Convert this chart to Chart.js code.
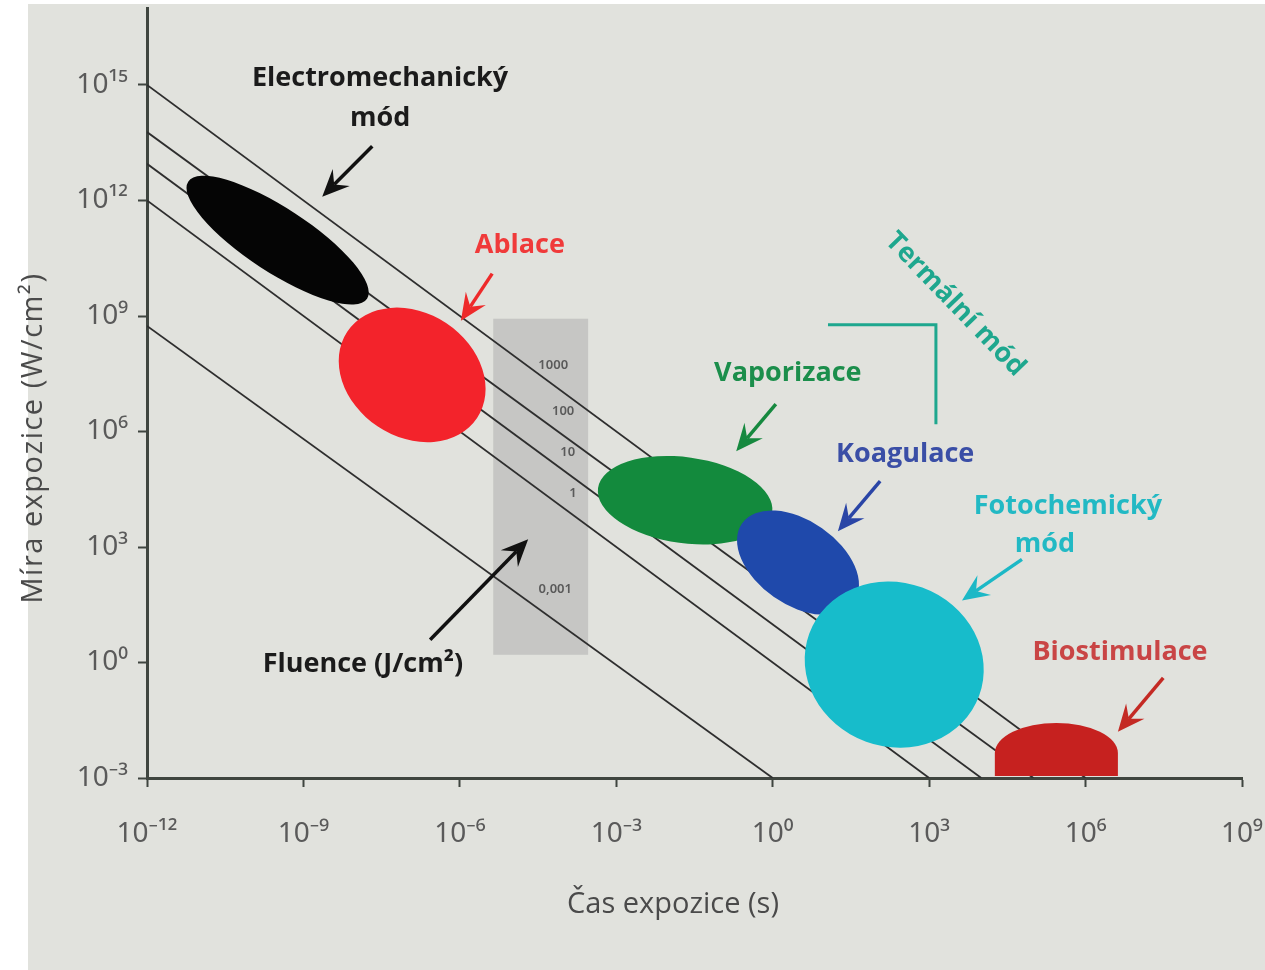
<!DOCTYPE html>
<html>
<head>
<meta charset="utf-8">
<script src="https://cdn.jsdelivr.net/npm/chart.js@4.4.1/dist/chart.umd.min.js"></script>
<style>
  html, body { margin: 0; padding: 0; background: #fff; }
  #wrap { width: 1265px; height: 970px; }
</style>
</head>
<body>
<div id="wrap"><canvas id="chart" width="1265" height="970"></canvas></div>
<script>
// --- axis ticks ---
const xTickExps = [-12, -9, -6, -3, 0, 3, 6, 9];
const xTickLabels = ['10⁻¹²', '10⁻⁹', '10⁻⁶', '10⁻³', '10⁰', '10³', '10⁶', '10⁹'];
const yTickExps = [-3, 0, 3, 6, 9, 12, 15];
const yTickLabels = ['10⁻³', '10⁰', '10³', '10⁶', '10⁹', '10¹²', '10¹⁵'];

// --- fluence lines (J/cm²): intensity at t = 1e-12 s, time at I = 1e-3 W/cm² ---
const fluenceLabels = ['1000', '100', '10', '1', '0,001'];
const fluenceStartI = [1e15, 6e13, 9e12, 1e12, 5.5e8];
const fluenceEndT = [1e6, 1e5, 1e4, 1e3, 1];
const fluenceLabelPos = [[-4.21, 7.73], [-4.02, 6.53], [-3.93, 5.46], [-3.83, 4.40], [-4.17, 1.90]];

// --- interaction modes, major axis ends as [log10 t, log10 I] ---
const modeNames = ['Electromechanický mód', 'Ablace', 'Vaporizace', 'Koagulace', 'Fotochemický mód'];
const modeStart = [[-11.21, 12.49], [-8.16, 8.59], [-3.35, 4.53], [-0.59, 3.61], [0.70, 0.75]];
const modeEnd = [[-7.78, 9.45], [-5.67, 6.35], [-0.01, 3.90], [1.56, 1.58], [3.96, -0.86]];

// biostimulation region: log10 t range, log10 I of shoulder and top
const bioT = [4.26, 6.62];
const bioShoulderI = -2.35;
const bioTopI = -1.57;

// gray fluence box: log10 t range and log10 I range
const boxT = [-5.36, -3.54];
const boxI = [0.20, 8.93];

// --- annotation texts and arrows, positions as [log10 t, log10 I] ---
const labelTexts = ['Electromechanický', 'mód', 'Ablace', 'Vaporizace', 'Koagulace', 'Fotochemický', 'mód', 'Biostimulace', 'Fluence (J/cm²)'];
const labelPos = [[-7.53, 15.18], [-7.53, 14.14], [-4.85, 10.83], [0.29, 7.52], [2.54, 5.41], [5.66, 4.06], [5.22, 3.07], [6.66, 0.255], [-7.86, -0.06]];
const arrowFrom = [[-7.68, 13.41], [-5.38, 10.10], [0.06, 6.71], [2.06, 4.71], [4.78, 2.68], [7.49, -0.40], [-6.57, 0.59]];
const arrowTo = [[-8.64, 12.10], [-5.98, 8.875], [-0.70, 5.49], [1.25, 3.41], [3.63, 1.61], [6.62, -1.80], [-4.69, 3.20]];
const thermalText = 'Termální mód';
const thermalPos = [3.50, 9.30];
const bracketPts = [[1.06, 8.77], [3.13, 8.77], [3.13, 6.19]];
const xTitle = 'Čas expozice (s)';
const yTitle = 'Míra expozice (W/cm²)';

// --- styles ---
const modeColors = ['#050505', '#f3232b', '#138a3d', '#1f49ab', '#17bccb'];
const modeMinor = [32, 62, 43, 42, 82];
const bioColor = '#c6211f';
const labelColors = ['#1b1b1b', '#1b1b1b', '#f03a3a', '#1b8e4b', '#3a4ea6', '#22b9c4', '#22b9c4', '#c94545', '#1b1b1b'];
const arrowColors = ['#111', '#ee2a2a', '#16893f', '#2a45a6', '#1cb8c6', '#c42a24', '#111'];
const thermalColor = '#1ea78e';

const datasets = fluenceLabels.map((lab, i) => ({
  label: lab + ' J/cm²',
  data: [{ x: 1e-12, y: fluenceStartI[i] }, { x: fluenceEndT[i], y: 1e-3 }],
  showLine: true,
  borderColor: '#2e2e2e',
  borderWidth: 1.8,
  pointRadius: 0,
  fill: false
}));

function drawArrow(ctx, x1, y1, x2, y2, color) {
  const a = Math.atan2(y2 - y1, x2 - x1);
  const L = 27, W = 12, notch = 17;
  const ca = Math.cos(a), sa = Math.sin(a);
  ctx.strokeStyle = color;
  ctx.lineWidth = 3.5;
  ctx.beginPath();
  ctx.moveTo(x1, y1);
  ctx.lineTo(x2 - ca * notch, y2 - sa * notch);
  ctx.stroke();
  const bx = x2 - ca * L, by = y2 - sa * L;
  ctx.fillStyle = color;
  ctx.beginPath();
  ctx.moveTo(x2, y2);
  ctx.lineTo(bx + sa * W, by - ca * W);
  ctx.lineTo(x2 - ca * notch, y2 - sa * notch);
  ctx.lineTo(bx - sa * W, by + ca * W);
  ctx.closePath();
  ctx.fill();
}

const overlay = {
  id: 'overlay',
  beforeDraw(chart) {
    const ctx = chart.ctx;
    ctx.save();
    ctx.fillStyle = '#ffffff';
    ctx.fillRect(0, 0, chart.width, chart.height);
    ctx.fillStyle = '#e1e2dd';
    ctx.fillRect(28, 4, chart.width - 28, chart.height - 4);
    ctx.restore();
  },
  beforeDatasetsDraw(chart) {
    const ctx = chart.ctx, xs = chart.scales.x, ys = chart.scales.y;
    const px = v => xs.getPixelForValue(Math.pow(10, v));
    const py = v => ys.getPixelForValue(Math.pow(10, v));
    ctx.save();
    ctx.fillStyle = '#c6c6c4';
    ctx.fillRect(px(boxT[0]), py(boxI[1]), px(boxT[1]) - px(boxT[0]), py(boxI[0]) - py(boxI[1]));
    ctx.restore();
  },
  afterDatasetsDraw(chart) {
    const ctx = chart.ctx, xs = chart.scales.x, ys = chart.scales.y, area = chart.chartArea;
    const px = v => xs.getPixelForValue(Math.pow(10, v));
    const py = v => ys.getPixelForValue(Math.pow(10, v));
    ctx.save();

    // fluence numbers in the gray box
    ctx.font = '600 13px "Noto Sans"';
    ctx.fillStyle = '#5a5a5a';
    ctx.textAlign = 'center';
    ctx.textBaseline = 'middle';
    fluenceLabels.forEach((lab, i) => ctx.fillText(lab, px(fluenceLabelPos[i][0]), py(fluenceLabelPos[i][1])));

    // mode regions
    ctx.save();
    ctx.beginPath();
    ctx.rect(area.left + 2, area.top, area.right - area.left, area.bottom - area.top - 2);
    ctx.clip();
    modeStart.forEach((s, i) => {
      const x1 = px(s[0]), y1 = py(s[1]), x2 = px(modeEnd[i][0]), y2 = py(modeEnd[i][1]);
      ctx.fillStyle = modeColors[i];
      ctx.beginPath();
      ctx.ellipse((x1 + x2) / 2, (y1 + y2) / 2, Math.hypot(x2 - x1, y2 - y1) / 2, modeMinor[i],
        Math.atan2(y2 - y1, x2 - x1), 0, Math.PI * 2);
      ctx.fill();
    });
    const bl = px(bioT[0]), br = px(bioT[1]), bs = py(bioShoulderI), bt = py(bioTopI);
    ctx.fillStyle = bioColor;
    ctx.beginPath();
    ctx.moveTo(bl, area.bottom);
    ctx.lineTo(bl, bs);
    ctx.ellipse((bl + br) / 2, bs, (br - bl) / 2, bs - bt, 0, Math.PI, Math.PI * 2);
    ctx.lineTo(br, area.bottom);
    ctx.closePath();
    ctx.fill();
    ctx.restore();

    // thermal bracket
    ctx.strokeStyle = thermalColor;
    ctx.lineWidth = 3;
    ctx.beginPath();
    bracketPts.forEach((p, i) => i ? ctx.lineTo(px(p[0]), py(p[1])) : ctx.moveTo(px(p[0]), py(p[1])));
    ctx.stroke();

    // arrows
    arrowFrom.forEach((f, i) => drawArrow(ctx, px(f[0]), py(f[1]), px(arrowTo[i][0]), py(arrowTo[i][1]), arrowColors[i]));

    // labels
    ctx.font = 'bold 27px "Open Sans"';
    labelTexts.forEach((t, i) => {
      ctx.fillStyle = labelColors[i];
      ctx.fillText(t, px(labelPos[i][0]), py(labelPos[i][1]));
    });
    ctx.save();
    ctx.translate(px(thermalPos[0]), py(thermalPos[1]));
    ctx.rotate(46 * Math.PI / 180);
    ctx.fillStyle = thermalColor;
    ctx.fillText(thermalText, 0, 0);
    ctx.restore();

    // axis titles
    ctx.font = '29px "Open Sans"';
    ctx.fillStyle = '#4a4a4a';
    ctx.fillText(xTitle, 673, 905);
    ctx.save();
    ctx.translate(34, 438);
    ctx.rotate(-Math.PI / 2);
    ctx.letterSpacing = '1.5px';
    ctx.fillText(yTitle, 0, 0);
    ctx.restore();

    ctx.restore();
  }
};

const axisColor = '#3f453f';

new Chart(document.getElementById('chart'), {
  type: 'scatter',
  data: { datasets: datasets },
  plugins: [overlay],
  options: {
    responsive: false,
    animation: false,
    layout: { padding: { top: 8, right: 23, left: 0, bottom: 0 } },
    plugins: { legend: { display: false }, tooltip: { enabled: false } },
    scales: {
      x: {
        type: 'logarithmic',
        min: 1e-12,
        max: 1e9,
        afterBuildTicks: s => { s.ticks = xTickExps.map(e => ({ value: Math.pow(10, e) })); },
        afterFit: s => { s.height = 192; s.paddingLeft = 0; s.paddingRight = 0; },
        border: { display: true, color: axisColor, width: 3 },
        grid: { display: true, drawOnChartArea: false, drawTicks: true, tickLength: 9, tickColor: axisColor, tickWidth: 2 },
        ticks: {
          autoSkip: false,
          maxRotation: 0,
          padding: 30,
          color: '#5a5a5a',
          font: { family: '"Noto Sans"', size: 28 },
          callback: (v, i) => xTickLabels[i]
        }
      },
      y: {
        type: 'logarithmic',
        min: 1e-3,
        max: 1e17,
        afterBuildTicks: s => { s.ticks = yTickExps.map(e => ({ value: Math.pow(10, e) })); },
        afterFit: s => { s.width = 147; s.paddingTop = 0; s.paddingBottom = 0; },
        border: { display: true, color: axisColor, width: 3 },
        grid: { display: true, drawOnChartArea: false, drawTicks: true, tickLength: 9, tickColor: axisColor, tickWidth: 2 },
        ticks: {
          autoSkip: false,
          padding: 10,
          color: '#5a5a5a',
          font: { family: '"Noto Sans"', size: 28 },
          callback: (v, i) => yTickLabels[i]
        }
      }
    }
  }
});
</script>
</body>
</html>
